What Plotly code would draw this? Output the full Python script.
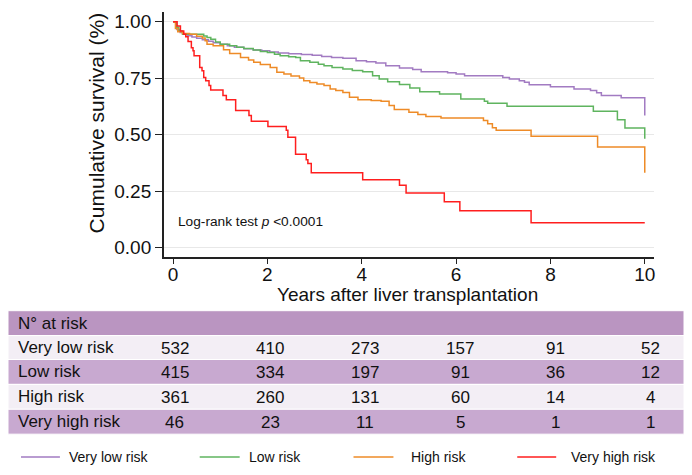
import plotly.graph_objects as go

# ---------------- data ----------------
groups = ["Very low risk", "Low risk", "High risk", "Very high risk"]
colors = ["#A27BC2", "#5FB45F", "#EE8B27", "#FF1E1E"]

very_low_t = [0, 0.08, 0.15, 0.22, 0.3, 0.4, 0.5, 0.62, 0.75, 0.85, 1.0, 1.15, 1.3, 1.5, 1.7, 1.88, 2.05, 2.23,
              2.45, 2.72, 2.95, 3.15, 3.36, 3.6, 3.88, 4.1, 4.3, 4.51, 4.8, 5.08, 5.26, 5.82, 6.0, 6.18, 6.99,
              7.13, 7.34, 7.45, 7.55, 8.0, 8.5, 8.85, 8.98, 9.08, 9.5, 10.0]
very_low_s = [1.0, 0.965, 0.952, 0.945, 0.938, 0.932, 0.927, 0.92, 0.913, 0.907, 0.9, 0.893, 0.887, 0.88, 0.875,
              0.871, 0.866, 0.861, 0.858, 0.855, 0.851, 0.846, 0.841, 0.838, 0.827, 0.822, 0.817, 0.805, 0.795,
              0.788, 0.778, 0.774, 0.768, 0.761, 0.753, 0.746, 0.739, 0.732, 0.721, 0.712, 0.702, 0.695, 0.685,
              0.673, 0.663, 0.585]

low_t = [0, 0.06, 0.12, 0.2, 0.65, 0.72, 0.8, 0.9, 1.0, 1.2, 1.35, 1.5, 1.7, 1.85, 2.0, 2.15, 2.27, 2.45, 2.6,
         2.7, 2.9, 3.08, 3.2, 3.37, 3.6, 3.8, 4.02, 4.23, 4.37, 4.55, 4.8, 5.02, 5.23, 5.65, 6.1, 6.6, 6.67, 7.08,
         8.91, 9.42, 9.58, 10.0]
low_s = [1.0, 0.975, 0.959, 0.944, 0.937, 0.93, 0.922, 0.91, 0.9, 0.893, 0.887, 0.881, 0.874, 0.868, 0.863,
         0.856, 0.849, 0.845, 0.841, 0.827, 0.82, 0.812, 0.805, 0.797, 0.79, 0.784, 0.778, 0.761, 0.746, 0.734,
         0.722, 0.706, 0.69, 0.68, 0.658, 0.648, 0.639, 0.626, 0.604, 0.566, 0.529, 0.482]

high_t = [0, 0.05, 0.1, 0.2, 0.35, 0.5, 0.62, 0.68, 0.72, 0.85, 1.07, 1.2, 1.43, 1.6, 1.71, 1.85, 2.06, 2.2,
          2.35, 2.5, 2.68, 2.77, 2.9, 3.05, 3.2, 3.33, 3.45, 3.6, 3.74, 3.92, 4.2, 4.41, 4.58, 4.69, 5.0, 5.19,
          5.36, 5.68, 6.58, 6.67, 6.77, 6.85, 7.59, 9.0, 10.0]
high_s = [1.0, 0.97, 0.955, 0.948, 0.944, 0.935, 0.928, 0.915, 0.9, 0.893, 0.876, 0.859, 0.841, 0.83, 0.82,
          0.81, 0.797, 0.776, 0.768, 0.76, 0.751, 0.739, 0.731, 0.724, 0.717, 0.702, 0.695, 0.687, 0.665, 0.654,
          0.651, 0.648, 0.629, 0.611, 0.599, 0.589, 0.58, 0.574, 0.563, 0.548, 0.53, 0.519, 0.493, 0.445, 0.332]

very_high_t = [0, 0.085, 0.156, 0.226, 0.269, 0.318, 0.388, 0.423, 0.445, 0.565, 0.614, 0.65, 0.692, 0.762,
               0.798, 1.058, 1.129, 1.327, 1.609, 1.659, 2.011, 2.40, 2.434, 2.597, 2.823, 2.858, 2.93, 4.02,
               4.80, 4.94, 5.75, 6.08, 7.59, 10.0]
very_high_s = [1.0, 0.981, 0.959, 0.944, 0.933, 0.912, 0.885, 0.871, 0.849, 0.797, 0.783, 0.753, 0.739, 0.717,
               0.698, 0.673, 0.654, 0.607, 0.585, 0.559, 0.536, 0.519, 0.489, 0.413, 0.389, 0.372, 0.332, 0.301,
               0.276, 0.242, 0.203, 0.163, 0.110, 0.110]

risk_years = [0, 2, 4, 6, 8, 10]
at_risk_very_low = [532, 410, 273, 157, 91, 52]
at_risk_low = [415, 334, 197, 91, 36, 12]
at_risk_high = [361, 260, 131, 60, 14, 4]
at_risk_very_high = [46, 23, 11, 5, 1, 1]

x_ticks = [0, 2, 4, 6, 8, 10]
y_ticks = [0.0, 0.25, 0.5, 0.75, 1.0]
y_tick_labels = ["0.00", "0.25", "0.50", "0.75", "1.00"]

# ---------------- figure ----------------
# the page body has an 8px margin, so the figure is placed at (8, 8) in the window
OFF = 8
W, H = 692 - OFF, 475 - OFF
FONT = "Arial, Liberation Sans, sans-serif"


def px(x):
    return (x - OFF) / W


def py(y):
    return 1 - (y - OFF) / H


series_t = [very_low_t, low_t, high_t, very_high_t]
series_s = [very_low_s, low_s, high_s, very_high_s]

fig = go.Figure()
for name, c, t, s in zip(groups, colors, series_t, series_s):
    fig.add_trace(go.Scatter(x=t, y=s, mode="lines", name=name, line=dict(color=c, width=1.5, shape="hv"),
                             showlegend=False))

shapes = []
ann = []

# axis titles and log-rank text
ann.append(dict(text="Cumulative survival (%)", x=px(97), y=py(122), xref="paper", yref="paper", showarrow=False,
                textangle=-90, font=dict(size=21, color="#111", family=FONT), xanchor="center", yanchor="middle"))
ann.append(dict(text="Years after liver transplantation", x=px(408), y=py(294.5), xref="paper", yref="paper",
                showarrow=False, font=dict(size=19, color="#111", family=FONT), xanchor="center", yanchor="middle"))
ann.append(dict(text="Log-rank test <i>p</i> <0.0001", x=px(176), y=py(221), xref="paper", yref="paper",
                showarrow=False, font=dict(size=13.7, color="#111", family=FONT), xanchor="left", yanchor="middle"))

# table
table_left, table_right = 8, 685
row_edges = [311, 336, 360, 385, 410, 435]
row_fill = ["#BA95C1", "#F3EEF5", "#C8A9D0", "#F3EEF5", "#C8A9D0"]
row_labels = ["N° at risk"] + groups
row_vals = [None, at_risk_very_low, at_risk_low, at_risk_high, at_risk_very_high]
for i in range(5):
    y0, y1 = row_edges[i], row_edges[i + 1]
    shapes.append(dict(type="rect", xref="paper", yref="paper", x0=px(table_left), x1=px(table_right),
                       y0=py(y1), y1=py(y0), fillcolor=row_fill[i], line=dict(width=1, color="white"),
                       layer="below"))
    yc = (y0 + y1) / 2
    ann.append(dict(text=row_labels[i], x=px(16), y=py(yc), xref="paper", yref="paper", showarrow=False,
                    font=dict(size=17, color="#111", family=FONT), xanchor="left", yanchor="middle"))
    if row_vals[i] is not None:
        for yr, v in zip(risk_years, row_vals[i]):
            ann.append(dict(text=str(v), x=yr * 1.0085 + 0.04, y=py(yc + 1), xref="x", yref="paper",
                            showarrow=False, font=dict(size=17, color="#111", family=FONT),
                            xanchor="center", yanchor="middle"))

# legend
leg_y = 458
leg_items = [(21, 60, 67), (200, 240, 247), (354, 394, 410), (518, 557, 570)]
for (l0, l1, tx), name, c in zip(leg_items, groups, colors):
    shapes.append(dict(type="line", xref="paper", yref="paper", x0=px(l0), x1=px(l1), y0=py(leg_y),
                       y1=py(leg_y), line=dict(color=c, width=1.5)))
    ann.append(dict(text=name, x=px(tx), y=py(leg_y), xref="paper", yref="paper", showarrow=False,
                    font=dict(size=14, color="#111", family=FONT), xanchor="left", yanchor="middle"))

x0px, x1px = 164, 655
ytop, ybot = 11, 257
fig.update_layout(
    width=W, height=H,
    margin=dict(l=0, r=0, t=0, b=0),
    paper_bgcolor="white", plot_bgcolor="white",
    font=dict(family=FONT, size=19, color="#111"),
    shapes=shapes, annotations=ann,
    xaxis=dict(domain=[px(x0px), px(x1px)], range=[-0.197, 10.197], tickvals=x_ticks,
               showline=True, linecolor="#222", linewidth=1.5, ticks="outside", ticklen=5, tickwidth=1.2,
               tickcolor="#222", showgrid=False, zeroline=False, tickfont=dict(size=19, color="#111"),
               ticklabelstandoff=-5, fixedrange=True),
    yaxis=dict(domain=[py(ybot), py(ytop)], range=[-0.041, 1.0427], tickvals=y_ticks, ticktext=y_tick_labels,
               showline=True, linecolor="#222", linewidth=1.5, ticks="outside", ticklen=7, tickwidth=1.2,
               tickcolor="#222", showgrid=True, gridcolor="#E8E8E8", gridwidth=1, zeroline=False,
               tickfont=dict(size=19, color="#111"), fixedrange=True),
    showlegend=False,
)

fig.write_html("out.html")
